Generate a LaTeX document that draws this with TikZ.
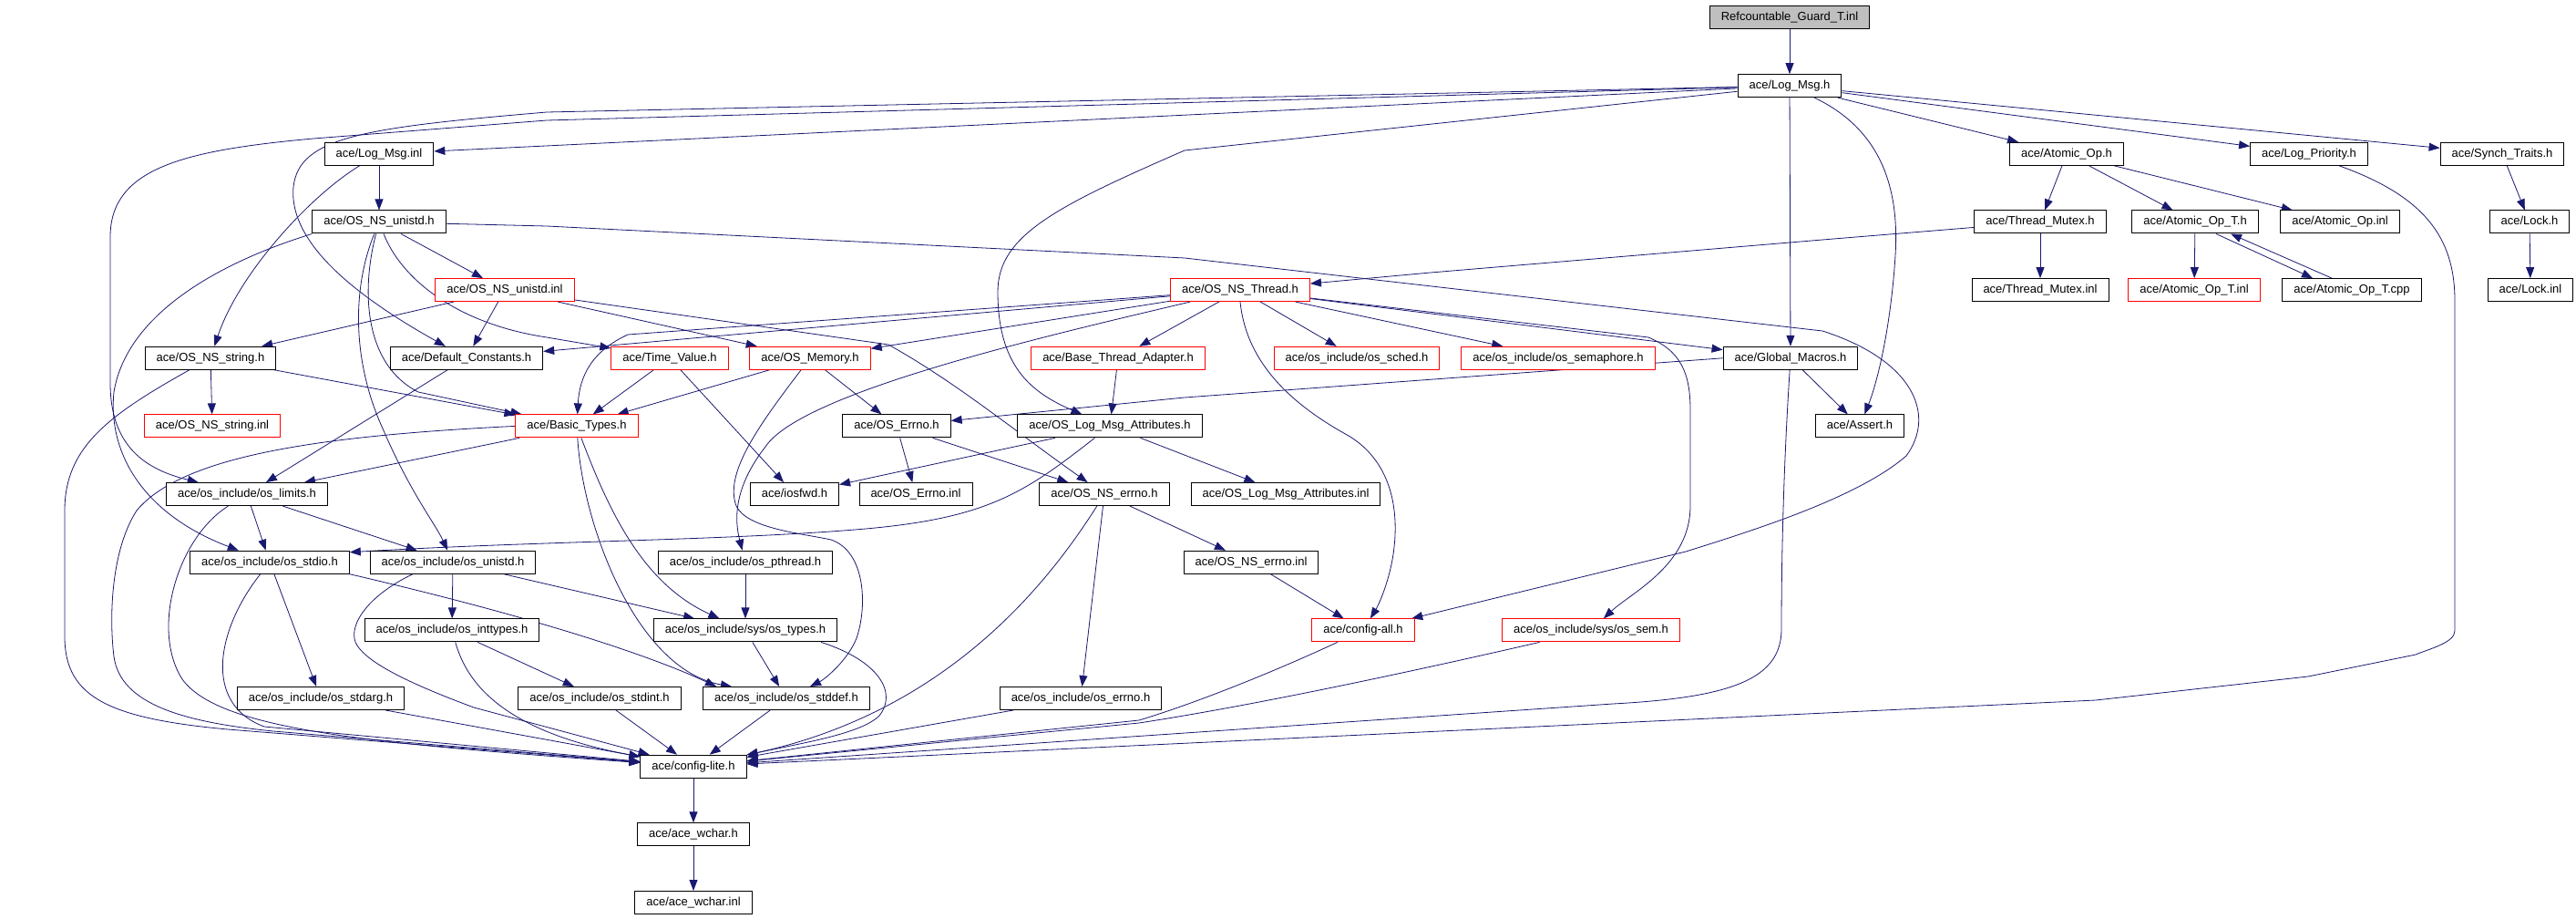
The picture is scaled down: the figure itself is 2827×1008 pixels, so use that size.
\documentclass[tikz,border=0pt]{standalone}
\usepackage{fontspec}
\setmainfont{Liberation Sans}
\usetikzlibrary{arrows.meta}
\pgfdeclarelayer{edges}
\pgfsetlayers{edges,main}
\definecolor{incblue}{RGB}{25,25,112}
\definecolor{rootgray}{RGB}{191,191,191}

\begin{document}
\begin{tikzpicture}[x=1pt,y=-1pt,
    file/.style={draw=black,line width=1pt,fill=white,inner xsep=12.5pt,inner ysep=0pt,
      minimum height=25pt,text height=9.4pt,text depth=2.8pt,font=\fontsize{13}{15}\selectfont},
    nodoc/.style={file,draw=red},
    root/.style={file,fill=rootgray},
    inc/.style={draw=incblue,line width=0.8pt,-{Triangle[length=12pt,width=9pt]}}]

\useasboundingbox (0,0) rectangle (2827,1008);

\node[root] (guard) at (1964,19.5) {Refcountable\_Guard\_T.inl};
\node[file] (logmsg) at (1964,94.2) {ace/Log\_Msg.h};

\node[file] (logmsginl) at (416,168.8) {ace/Log\_Msg.inl};
\node[file] (atomicop) at (2268,168.8) {ace/Atomic\_Op.h};
\node[file] (logprio) at (2534,168.8) {ace/Log\_Priority.h};
\node[file] (synch) at (2746,168.8) {ace/Synch\_Traits.h};

\node[file] (nsunistd) at (416,243.5) {ace/OS\_NS\_unistd.h};
\node[file] (tmutex) at (2239,243.5) {ace/Thread\_Mutex.h};
\node[file] (atomicopt) at (2409,243.5) {ace/Atomic\_Op\_T.h};
\node[file] (atomicopinl) at (2568,243.5) {ace/Atomic\_Op.inl};
\node[file] (lock) at (2776,243.5) {ace/Lock.h};

\node[nodoc] (nsunistdinl) at (554,318.1) {ace/OS\_NS\_unistd.inl};
\node[nodoc] (nsthread) at (1361,318.1) {ace/OS\_NS\_Thread.h};
\node[file] (tmutexinl) at (2239,318.1) {ace/Thread\_Mutex.inl};
\node[nodoc] (atomicoptinl) at (2408,318.1) {ace/Atomic\_Op\_T.inl};
\node[file] (atomicoptcpp) at (2581,318.1) {ace/Atomic\_Op\_T.cpp};
\node[file] (lockinl) at (2777,318.1) {ace/Lock.inl};

\node[file] (nsstring) at (231,392.8) {ace/OS\_NS\_string.h};
\node[file] (defconst) at (512,392.8) {ace/Default\_Constants.h};
\node[nodoc] (timevalue) at (735,392.8) {ace/Time\_Value.h};
\node[nodoc] (osmemory) at (889,392.8) {ace/OS\_Memory.h};
\node[nodoc] (bta) at (1227,392.8) {ace/Base\_Thread\_Adapter.h};
\node[nodoc] (ossched) at (1489,392.8) {ace/os\_include/os\_sched.h};
\node[nodoc] (ossemaphore) at (1710,392.8) {ace/os\_include/os\_semaphore.h};
\node[file] (globalmacros) at (1965,392.8) {ace/Global\_Macros.h};

\node[nodoc] (nsstringinl) at (233,467.4) {ace/OS\_NS\_string.inl};
\node[nodoc] (basictypes) at (633,467.4) {ace/Basic\_Types.h};
\node[file] (oserrno) at (984,467.4) {ace/OS\_Errno.h};
\node[file] (logattr) at (1218,467.4) {ace/OS\_Log\_Msg\_Attributes.h};
\node[file] (assert) at (2041,467.4) {ace/Assert.h};

\node[file] (oslimits) at (271,542.1) {ace/os\_include/os\_limits.h};
\node[file] (iosfwd) at (872,542.1) {ace/iosfwd.h};
\node[file] (oserrnoinl) at (1005,542.1) {ace/OS\_Errno.inl};
\node[file] (nserrno) at (1212,542.1) {ace/OS\_NS\_errno.h};
\node[file] (logattrinl) at (1411,542.1) {ace/OS\_Log\_Msg\_Attributes.inl};

\node[file] (osstdio) at (296,616.7) {ace/os\_include/os\_stdio.h};
\node[file] (osunistd) at (497,616.7) {ace/os\_include/os\_unistd.h};
\node[file] (pthread) at (818,616.7) {ace/os\_include/os\_pthread.h};
\node[file] (nserrnoinl) at (1373,616.7) {ace/OS\_NS\_errno.inl};

\node[file] (inttypes) at (496,691.4) {ace/os\_include/os\_inttypes.h};
\node[file] (ostypes) at (818,691.4) {ace/os\_include/sys/os\_types.h};
\node[nodoc] (configall) at (1496,691.4) {ace/config-all.h};
\node[nodoc] (syssem) at (1746,691.4) {ace/os\_include/sys/os\_sem.h};

\node[file] (stdarg) at (352,766) {ace/os\_include/os\_stdarg.h};
\node[file] (stdint) at (658,766) {ace/os\_include/os\_stdint.h};
\node[file] (stddef) at (863,766) {ace/os\_include/os\_stddef.h};
\node[file] (oserrnoh) at (1186,766) {ace/os\_include/os\_errno.h};

\node[file] (configlite) at (761,840.7) {ace/config-lite.h};
\node[file] (wchar) at (761,915.3) {ace/ace\_wchar.h};
\node[file] (wcharinl) at (761,990) {ace/ace\_wchar.inl};

\begin{pgfonlayer}{edges}
\foreach \a/\b in {guard/logmsg, logmsg/logmsginl, logmsg/atomicop, logmsg/logprio,
    logmsg/synch, logmsg/globalmacros, logmsginl/nsunistd,
    atomicop/tmutex, atomicop/atomicopt, atomicop/atomicopinl,
    synch/lock, lock/lockinl, tmutex/tmutexinl, atomicopt/atomicoptinl,
    nsunistd/nsunistdinl, nsunistdinl/nsstring, nsunistdinl/defconst, nsunistdinl/osmemory,
    nsthread/defconst, nsthread/osmemory, nsthread/bta, nsthread/ossched,
    nsthread/ossemaphore, nsthread/globalmacros,
    nsstring/nsstringinl, nsstring/basictypes, defconst/oslimits,
    timevalue/basictypes, timevalue/iosfwd, osmemory/basictypes, osmemory/oserrno,
    bta/logattr, globalmacros/assert, basictypes/oslimits,
    oserrno/oserrnoinl, oserrno/nserrno, logattr/iosfwd, logattr/logattrinl,
    oslimits/osstdio, oslimits/osunistd, nserrno/nserrnoinl, nserrno/oserrnoh,
    osstdio/stdarg, osunistd/inttypes, osunistd/ostypes, pthread/ostypes,
    nserrnoinl/configall, inttypes/stdint, ostypes/stddef,
    stdarg/configlite, stdint/configlite, stddef/configlite, oserrnoh/configlite,
    configlite/wchar, wchar/wcharinl}
  \draw[inc] (\a) -- (\b);

\draw[inc] ([xshift=23pt]atomicopt.south) -- ([xshift=-43pt]atomicoptcpp.north);
\draw[inc] ([xshift=-22pt]atomicoptcpp.north) -- ([xshift=39pt]atomicopt.south);

\draw[inc] (logmsg) -- (600,123) .. controls (400,140) and (328,150) .. (322,205)
  .. controls (316,270) and (400,330) .. (defconst);
\draw[inc] (logmsg) -- (600,132) -- (344,152) .. controls (200,165) and (121,185) .. (121,260)
  -- (121,420) .. controls (121,490) and (160,515) .. (oslimits);
\draw[inc] (logmsg) -- (1300,165) .. controls (1160,226) and (1095,258) .. (1095,320)
  .. controls (1095,400) and (1130,430) .. (logattr);
\draw[inc] (logmsg) .. controls (2060,140) and (2085,200) .. (2080,280)
  .. controls (2075,360) and (2060,420) .. (assert);
\draw[inc] (logmsginl) .. controls (340,215) and (262,300) .. (nsstring);

\draw[inc] (nsunistd.south west) .. controls (250,285) and (140,340) .. (125,430)
  .. controls (118,500) and (160,565) .. (osstdio);
\draw[inc] (nsunistd) .. controls (440,305) and (500,355) .. (600,370) -- (timevalue);
\draw[inc] (nsunistd) .. controls (396,320) and (400,400) .. (459,430) -- (basictypes);
\draw[inc] (nsunistd) .. controls (385,320) and (388,400) .. (420,470)
  .. controls (450,540) and (478,575) .. (osunistd);
\draw[inc] (nsunistd) -- (600,248) -- (1300,283) -- (2000,363)
  .. controls (2100,395) and (2125,455) .. (2092,500)
  .. controls (2040,545) and (1930,580) .. (1850,605) -- (configall);

\draw[inc] (tmutex) -- (2000,263) -- (1570,299) -- (nsthread);
\draw[inc] (nsthread) -- (1809,370) .. controls (1845,385) and (1855,410) .. (1855,450)
  -- (1855,555) .. controls (1855,620) and (1790,650) .. (syssem);
\draw[inc] (nsthread.south) .. controls (1368,400) and (1420,445) .. (1480,478)
  .. controls (1525,505) and (1535,555) .. (1530,600)
  .. controls (1527,630) and (1515,660) .. (configall);
\draw[inc] (nsthread) .. controls (1150,368) and (880,430) .. (840,490)
  .. controls (805,535) and (806,570) .. (pthread);
\draw[inc] (nsthread) -- (689,367) .. controls (650,385) and (636,412) .. (basictypes);
\draw[inc] (nsunistdinl) -- (975,378) .. controls (1050,420) and (1110,470) .. (nserrno);
\draw[inc] (globalmacros.west) -- (1300,436) -- (oserrno);

\draw[inc] (nsstring) .. controls (120,455) and (71,490) .. (71,560) -- (71,700)
  .. controls (72,765) and (120,788) .. (250,800) -- (configlite);
\draw[inc] (basictypes.west) .. controls (350,478) and (200,500) .. (150,560)
  .. controls (121,605) and (120,680) .. (125,720)
  .. controls (132,772) and (200,792) .. (300,802) -- (configlite);
\draw[inc] (basictypes) .. controls (668,560) and (705,640) .. (ostypes);
\draw[inc] (basictypes) .. controls (640,580) and (700,735) .. ([xshift=-60pt]stddef.north);
\draw[inc] (osmemory) .. controls (830,470) and (795,520) .. (808,555)
  .. controls (820,580) and (880,585) .. (912,592)
  .. controls (950,605) and (952,665) .. (940,700)
  .. controls (930,725) and (905,745) .. (stddef);
\draw[inc] (logattr) .. controls (1125,540) and (1085,568) .. (950,580)
  .. controls (800,593) and (600,593) .. ([yshift=-2pt]osstdio.north east);

\draw[inc] (globalmacros) .. controls (1958,500) and (1955,600) .. (1955,690)
  .. controls (1955,745) and (1900,765) .. (1770,772) -- (configlite);
\draw[inc] ([xshift=33pt]logprio.south) .. controls (2660,215) and (2694,260) .. (2694,330)
  -- (2694,692) .. controls (2694,705) and (2665,712) .. (2651,718)
  -- (2533,742) -- (2300,768) -- (configlite);
\draw[inc] (nserrno) .. controls (1150,640) and (1040,780) .. (configlite);
\draw[inc] (configall) .. controls (1380,745) and (1300,775) .. (1250,790) -- (configlite);
\draw[inc] (syssem) .. controls (1600,725) and (1400,770) .. (1250,793) -- (configlite);
\draw[inc] ([xshift=-18pt]ostypes.south east) .. controls (965,725) and (985,760) .. (965,785)
  .. controls (945,805) and (880,815) .. (configlite);

\draw[inc] (oslimits) .. controls (195,590) and (165,690) .. (200,745)
  .. controls (240,800) and (400,815) .. (configlite);
\draw[inc] (osstdio) .. controls (238,690) and (222,772) .. (290,797) -- (configlite);
\draw[inc] (osstdio.south east) .. controls (600,680) and (720,722) .. ([xshift=-77pt]stddef.north);
\draw[inc] ([xshift=-44pt]osunistd.south) .. controls (400,655) and (380,690) .. (392,708)
  .. controls (405,728) and (450,750) .. (520,776) -- (configlite);
\draw[inc] (inttypes) .. controls (510,740) and (540,800) .. (configlite);
\end{pgfonlayer}

\end{tikzpicture}
\end{document}
